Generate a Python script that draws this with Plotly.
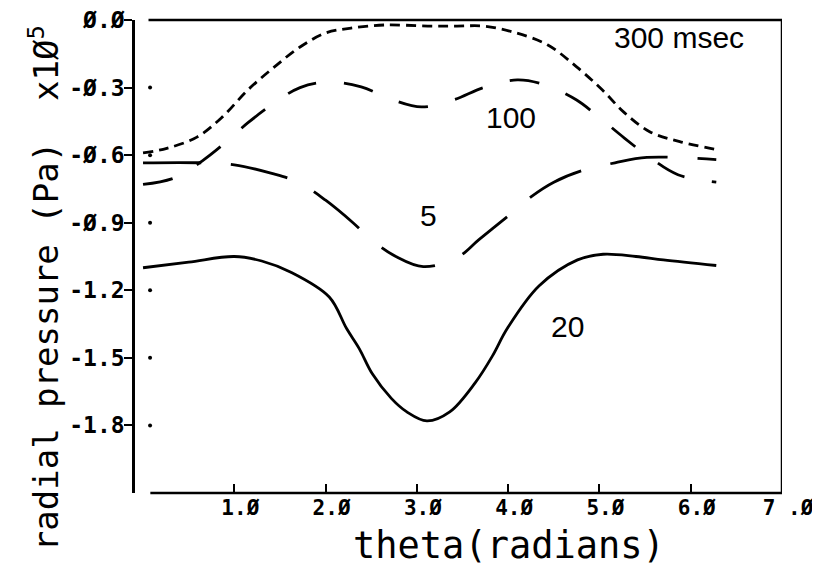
import plotly.graph_objects as go

# ---- data ----
theta_300 = [0.0, 0.26, 0.59, 0.87, 1.15, 1.44, 1.72, 2.0, 2.28, 2.65, 3.12, 3.44, 3.73, 4.05, 4.43, 4.75, 5.03, 5.27, 5.55, 5.88, 6.28]
p_300 = [-0.59, -0.57, -0.52, -0.43, -0.31, -0.208, -0.12, -0.058, -0.036, -0.022, -0.027, -0.027, -0.027, -0.053, -0.11, -0.208, -0.31, -0.41, -0.496, -0.54, -0.575]

theta_100 = [0.0, 0.35, 0.65, 0.9, 1.15, 1.44, 1.72, 2.04, 2.39, 2.74, 3.05, 3.4, 3.73, 4.1, 4.4, 4.75, 4.99, 5.27, 5.55, 5.86, 6.28]
p_100 = [-0.73, -0.70, -0.625, -0.545, -0.456, -0.368, -0.30, -0.275, -0.297, -0.355, -0.386, -0.355, -0.30, -0.266, -0.288, -0.355, -0.43, -0.523, -0.61, -0.687, -0.72]

theta_5 = [0.0, 0.65, 1.0, 1.4, 1.7, 2.0, 2.3, 2.5, 2.77, 3.07, 3.44, 3.68, 4.0, 4.25, 4.5, 4.8, 5.17, 5.52, 6.28]
p_5 = [-0.634, -0.634, -0.643, -0.68, -0.72, -0.80, -0.90, -0.975, -1.05, -1.095, -1.055, -0.975, -0.87, -0.785, -0.72, -0.67, -0.634, -0.61, -0.62]

theta_20 = [0.0, 0.5, 1.0, 1.3, 1.62, 2.04, 2.23, 2.37, 2.51, 2.72, 2.89, 3.11, 3.36, 3.64, 3.83, 3.99, 4.34, 4.76, 5.04, 5.4, 5.7, 6.28]
p_20 = [-1.10, -1.075, -1.05, -1.07, -1.12, -1.23, -1.37, -1.46, -1.57, -1.68, -1.74, -1.78, -1.74, -1.61, -1.49, -1.37, -1.18, -1.065, -1.04, -1.05, -1.065, -1.09]

x_tick_vals = [1, 2, 3, 4, 5, 6, 7]
x_tick_text = ["1.Ø", "2.Ø", "3.Ø", "4.Ø", "5.Ø", "6.Ø", "7 .Ø"]
y_tick_vals = [0.0, -0.3, -0.6, -0.9, -1.2, -1.5, -1.8]
y_tick_text = ["Ø.Ø", "-Ø.3", "-Ø.6", "-Ø.9", "-1.2", "-1.5", "-1.8"]

labels_text = ["300 msec", "100", "5", "20"]
labels_x = [5.87, 4.03, 3.125, 4.65]
labels_y = [-0.078, -0.434, -0.869, -1.36]

# ---- figure ----
fig = go.Figure()
line_w = 2.8
fig.add_trace(go.Scatter(x=theta_300, y=p_300, mode="lines", line=dict(color="black", width=line_w, dash="10px,6px", shape="spline")))
fig.add_trace(go.Scatter(x=theta_100, y=p_100, mode="lines", line=dict(color="black", width=line_w, dash="30px,28px", shape="spline")))
fig.add_trace(go.Scatter(x=theta_5, y=p_5, mode="lines", line=dict(color="black", width=line_w, dash="58px,30px", shape="spline")))
fig.add_trace(go.Scatter(x=theta_20, y=p_20, mode="lines", line=dict(color="black", width=line_w, shape="spline")))

# small dots right of the y ticks
fig.add_trace(go.Scatter(x=[0.077] * (len(y_tick_vals) - 1), y=y_tick_vals[1:], mode="markers",
                         marker=dict(color="black", size=4)))

for t, xx, yy in zip(labels_text, labels_x, labels_y):
    fig.add_annotation(x=xx, y=yy, text=t, showarrow=False, xref="x", yref="y",
                       font=dict(family="Liberation Sans Narrow, Liberation Sans, Arial", size=30, color="black"))

mono = "DejaVu Sans Mono"
fig.add_annotation(xref="paper", yref="paper", x=-0.1406, y=0.433, textangle=-90,
                   text="radial pressure (Pa)  x1Ø<sup>5</sup>", showarrow=False,
                   xanchor="center", yanchor="middle",
                   font=dict(family=mono, size=34, color="black"))
fig.add_annotation(xref="paper", yref="paper", x=0.578, y=-0.11,
                   text="theta(radians)", showarrow=False, xanchor="center", yanchor="middle",
                   font=dict(family=mono, size=37, color="black"))

# frame lines (top, right, bottom)
frame = dict(color="black", width=2.5)
fig.add_shape(type="line", xref="x", yref="paper", x0=0.06, x1=7.0, y0=1, y1=1, line=frame)
fig.add_shape(type="line", xref="x", yref="paper", x0=7.0, x1=7.0, y0=0, y1=1, line=frame)
fig.add_shape(type="line", xref="x", yref="paper", x0=0.08, x1=7.0, y0=0, y1=0, line=frame)

# the page body keeps an 8px default margin, so the figure is 8px smaller on each axis
fig.update_layout(
    width=812, height=563,
    margin=dict(l=127, r=38, t=12, b=78),
    paper_bgcolor="white", plot_bgcolor="white",
    showlegend=False,
    xaxis=dict(range=[-0.088, 7.0], showgrid=False, zeroline=False, showline=False, automargin=False,
               tickmode="array", tickvals=x_tick_vals, ticktext=x_tick_text,
               ticks="inside", ticklen=9, tickwidth=2, tickcolor="black",
               ticklabelshift=6, ticklabelstandoff=0, ticklabeloverflow="allow",
               tickfont=dict(family=mono, size=21, color="black", weight="bold")),
    yaxis=dict(range=[-2.1, 0.0], showgrid=False, zeroline=False, showline=True, automargin=False,
               linecolor="black", linewidth=2.5,
               tickmode="array", tickvals=y_tick_vals, ticktext=y_tick_text,
               ticks="outside", ticklen=8, tickwidth=2, tickcolor="black",
               ticklabeloverflow="allow", ticklabelstandoff=-5,
               tickfont=dict(family=mono, size=23, color="black", weight="bold")),
)

fig.write_html("out.html")
